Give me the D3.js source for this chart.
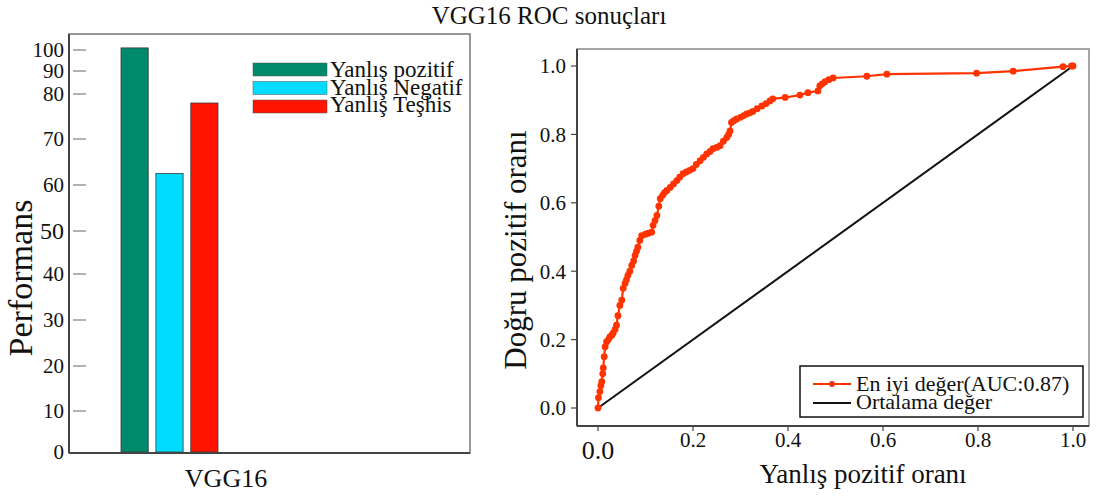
<!DOCTYPE html>
<html>
<head>
<meta charset="utf-8">
<script src="https://cdn.jsdelivr.net/npm/d3@7"></script>
<style>
  body { margin: 0; background: #fff; }
</style>
</head>
<body>
<div id="chart"></div>
<script>
// bar chart data
var groups = ["VGG16"];
var series = ["Yanlış pozitif", "Yanlış Negatif", "Yanlış Teşhis"];
var barValues = [101, 62.5, 78];
var barColors = ["#008a6c", "#00dcff", "#ff1400"];
var barTicks = [0, 10, 20, 30, 40, 50, 60, 70, 80, 90, 100];

// roc data
var fpr = [0, 0.001, 0.004, 0.006, 0.008, 0.01, 0.011, 0.013, 0.015, 0.018, 0.022, 0.025, 0.029, 0.032,
  0.036, 0.039, 0.042, 0.046, 0.05, 0.053, 0.057, 0.06, 0.063, 0.067, 0.071, 0.075, 0.078, 0.081,
  0.084, 0.088, 0.092, 0.1, 0.106, 0.113, 0.116, 0.12, 0.124, 0.128, 0.131, 0.136, 0.14, 0.145,
  0.152, 0.159, 0.166, 0.172, 0.179, 0.186, 0.193, 0.2, 0.207, 0.215, 0.222, 0.229, 0.236, 0.242,
  0.25, 0.257, 0.264, 0.271, 0.275, 0.278, 0.281, 0.286, 0.292, 0.3, 0.307, 0.313, 0.32, 0.326,
  0.335, 0.345, 0.354, 0.362, 0.368, 0.394, 0.425, 0.442, 0.463, 0.467, 0.472, 0.478, 0.486, 0.495,
  0.566, 0.608, 0.797, 0.874, 0.979, 0.997, 1];
var tpr = [0, 0.03, 0.048, 0.065, 0.077, 0.1, 0.117, 0.15, 0.179, 0.193, 0.2, 0.208, 0.213, 0.219,
  0.23, 0.242, 0.27, 0.3, 0.315, 0.35, 0.364, 0.375, 0.388, 0.4, 0.417, 0.43, 0.446, 0.458,
  0.47, 0.49, 0.504, 0.508, 0.511, 0.514, 0.534, 0.548, 0.563, 0.59, 0.612, 0.622, 0.63, 0.636,
  0.645, 0.655, 0.665, 0.675, 0.685, 0.69, 0.695, 0.7, 0.712, 0.723, 0.733, 0.743, 0.75, 0.758,
  0.762, 0.767, 0.78, 0.791, 0.8, 0.81, 0.835, 0.84, 0.845, 0.85, 0.855, 0.86, 0.863, 0.867,
  0.875, 0.883, 0.89, 0.898, 0.904, 0.908, 0.915, 0.922, 0.927, 0.942, 0.948, 0.954, 0.96, 0.965,
  0.97, 0.976, 0.979, 0.985, 0.998, 1, 1];
var diagonal = [0, 1];
var rocTicks = [0, 0.2, 0.4, 0.6, 0.8, 1.0];
var legendLabels = ["En iyi değer(AUC:0.87)", "Ortalama değer"];

var width = 1097, height = 498;
var serif = "'Liberation Serif', 'DejaVu Serif', 'Times New Roman', serif";
var svg = d3.select("#chart").append("svg")
  .attr("width", width)
  .attr("height", height)
  .attr("font-family", serif)
  .style("font-family", serif);

svg.append("text")
  .attr("x", 549).attr("y", 24)
  .attr("text-anchor", "middle")
  .attr("fill", "#111")
  .style("font-size", "25px")
  .text("VGG16 ROC sonuçları");

// ---------- left: bar chart ----------
var left = { x0: 69, x1: 470, y0: 34, y1: 453 };

// tick spacing in the source is uneven at the top, so use a piecewise scale
var yBar = d3.scaleLinear()
  .domain(barTicks)
  .range([452, 411, 366, 320, 274, 231, 185, 139, 94, 71, 50]);

var xBar = d3.scaleBand()
  .domain(series)
  .range([121, 218])
  .paddingInner(0.22)
  .paddingOuter(0);

svg.append("rect")
  .attr("x", left.x0).attr("y", left.y0)
  .attr("width", left.x1 - left.x0).attr("height", left.y1 - left.y0)
  .attr("fill", "none").attr("stroke", "#777").attr("stroke-width", 1.5);

svg.selectAll(".bar")
  .data(series)
  .enter().append("rect")
  .attr("class", "bar")
  .attr("x", function(d) { return xBar(d); })
  .attr("y", function(d, i) { return yBar(barValues[i]); })
  .attr("width", xBar.bandwidth())
  .attr("height", function(d, i) { return yBar(0) - yBar(barValues[i]); })
  .attr("fill", function(d, i) { return barColors[i]; })
  .attr("stroke", "#3a3a3a").attr("stroke-width", 0.8);

// axis lines
svg.append("line")
  .attr("x1", left.x0).attr("x2", left.x0).attr("y1", left.y0).attr("y2", left.y1)
  .attr("stroke", "#444").attr("stroke-width", 2);
svg.append("line")
  .attr("x1", left.x0).attr("x2", left.x1).attr("y1", left.y1).attr("y2", left.y1)
  .attr("stroke", "#444").attr("stroke-width", 2);

var yTickG = svg.append("g");
barTicks.forEach(function(t) {
  if (t > 0) {
    yTickG.append("line")
      .attr("x1", 73).attr("x2", 86)
      .attr("y1", yBar(t)).attr("y2", yBar(t))
      .attr("stroke", "#999").attr("stroke-width", 1.5);
  }
  yTickG.append("text")
    .attr("x", 64).attr("y", yBar(t))
    .attr("dy", "0.35em")
    .attr("text-anchor", "end")
    .attr("fill", "#111")
    .style("font-size", t === 50 ? "24px" : "21px")
    .text(t);
});

svg.append("text")
  .attr("transform", "translate(32,278)rotate(-90)")
  .attr("text-anchor", "middle")
  .attr("fill", "#111")
  .style("font-size", "34px")
  .text("Performans");

svg.append("text")
  .attr("x", 226).attr("y", 487)
  .attr("text-anchor", "middle")
  .attr("fill", "#111")
  .style("font-size", "26px")
  .text(groups[0]);

// bar legend
var barLegend = svg.append("g");
series.forEach(function(s, i) {
  barLegend.append("rect")
    .attr("x", 253).attr("y", 63 + i * 18.5)
    .attr("width", 74).attr("height", 13)
    .attr("fill", barColors[i])
    .attr("stroke", "#555").attr("stroke-width", 0.5);
  barLegend.append("text")
    .attr("x", 330).attr("y", 77 + i * 17.5)
    .attr("fill", "#111")
    .style("font-size", "23px")
    .text(s);
});

// ---------- right: ROC ----------
var right = { x0: 577, x1: 1089, y0: 49, y1: 426 };

var xRoc = d3.scaleLinear().domain([0, 1]).range([598, 1073]);
var yRoc = d3.scaleLinear().domain([0, 1]).range([408, 66]);

svg.append("rect")
  .attr("x", right.x0).attr("y", right.y0)
  .attr("width", right.x1 - right.x0).attr("height", right.y1 - right.y0)
  .attr("fill", "none").attr("stroke", "#888").attr("stroke-width", 1.5);
svg.append("line")
  .attr("x1", right.x0).attr("x2", right.x0).attr("y1", right.y0).attr("y2", right.y1)
  .attr("stroke", "#444").attr("stroke-width", 2);
svg.append("line")
  .attr("x1", right.x0).attr("x2", right.x1).attr("y1", right.y1).attr("y2", right.y1)
  .attr("stroke", "#444").attr("stroke-width", 2);

var rocG = svg.append("g");
rocTicks.forEach(function(t, i) {
  // y ticks
  rocG.append("line")
    .attr("x1", 571).attr("x2", right.x0)
    .attr("y1", yRoc(t)).attr("y2", yRoc(t))
    .attr("stroke", "#444").attr("stroke-width", 1.2);
  rocG.append("text")
    .attr("x", 566).attr("y", yRoc(t))
    .attr("dy", "0.35em")
    .attr("text-anchor", "end")
    .attr("fill", "#111")
    .style("font-size", "21px")
    .text(t.toFixed(1));
  // x ticks
  rocG.append("line")
    .attr("x1", xRoc(t)).attr("x2", xRoc(t))
    .attr("y1", right.y1).attr("y2", right.y1 + 5)
    .attr("stroke", "#444").attr("stroke-width", 1.2);
  rocG.append("text")
    .attr("x", xRoc(t)).attr("y", i === 0 ? 459 : 447)
    .attr("text-anchor", "middle")
    .attr("fill", "#111")
    .style("font-size", i === 0 ? "26px" : "21px")
    .text(t.toFixed(1));
});

svg.append("text")
  .attr("transform", "translate(526,250)rotate(-90)")
  .attr("text-anchor", "middle")
  .attr("fill", "#111")
  .style("font-size", "31px")
  .text("Doğru pozitif oranı");

svg.append("text")
  .attr("x", 863).attr("y", 483)
  .attr("text-anchor", "middle")
  .attr("fill", "#111")
  .style("font-size", "27px")
  .text("Yanlış pozitif oranı");

// diagonal
svg.append("path")
  .datum(diagonal)
  .attr("d", d3.line().x(function(d) { return xRoc(d); }).y(function(d) { return yRoc(d); }))
  .attr("fill", "none").attr("stroke", "#111").attr("stroke-width", 2);

// roc curve
var rocPts = fpr.map(function(f, i) { return [f, tpr[i]]; });
var rocColor = "#ff3300";
svg.append("path")
  .datum(rocPts)
  .attr("d", d3.line().x(function(d) { return xRoc(d[0]); }).y(function(d) { return yRoc(d[1]); }))
  .attr("fill", "none").attr("stroke", rocColor).attr("stroke-width", 2.2);
svg.selectAll(".pt")
  .data(rocPts)
  .enter().append("circle")
  .attr("class", "pt")
  .attr("cx", function(d) { return xRoc(d[0]); })
  .attr("cy", function(d) { return yRoc(d[1]); })
  .attr("r", 3.4)
  .attr("fill", rocColor);

// roc legend
var lg = svg.append("g");
lg.append("rect")
  .attr("x", 800).attr("y", 366).attr("width", 283).attr("height", 51)
  .attr("fill", "#fff").attr("stroke", "#111").attr("stroke-width", 1.5);
lg.append("line")
  .attr("x1", 813).attr("x2", 851).attr("y1", 384).attr("y2", 384)
  .attr("stroke", rocColor).attr("stroke-width", 2.2);
lg.append("circle")
  .attr("cx", 832).attr("cy", 384).attr("r", 3)
  .attr("fill", rocColor);
lg.append("line")
  .attr("x1", 813).attr("x2", 851).attr("y1", 403).attr("y2", 403)
  .attr("stroke", "#111").attr("stroke-width", 2);
legendLabels.forEach(function(l, i) {
  lg.append("text")
    .attr("x", 856).attr("y", 391 + i * 18)
    .attr("fill", "#111")
    .style("font-size", "22px")
    .text(l);
});
</script>
</body>
</html>
